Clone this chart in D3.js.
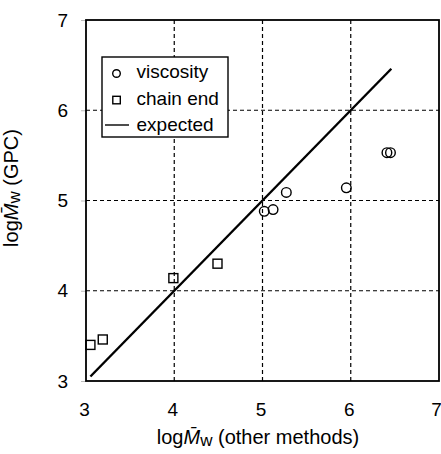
<!DOCTYPE html>
<html>
<head>
<meta charset="utf-8">
<script src="https://cdn.jsdelivr.net/npm/d3@7"></script>
<style>
  body { margin: 0; background: #fff; }
  text { font-family: "Liberation Sans", Arial, sans-serif; fill: #000; }
</style>
</head>
<body>
<svg id="chart" width="441" height="454"></svg>
<script>
// Data
const viscosityX = [5.02, 5.12, 5.27, 5.95, 6.41, 6.45],
    viscosityY = [4.88, 4.90, 5.09, 5.14, 5.53, 5.53];
const chainEndX = [3.05, 3.19, 3.99, 4.49],
    chainEndY = [3.40, 3.46, 4.14, 4.30];
const expectedX = [3.05, 6.46];
const ticks = [3, 4, 5, 6, 7];
const legendItems = ['viscosity', 'chain end', 'expected'];

const margin = { top: 20, right: 2, bottom: 73, left: 86 },
    width = 441 - margin.left - margin.right,
    height = 454 - margin.top - margin.bottom,
    fontSize = 19,
    titleSize = 20;

const svg = d3.select('#chart');
const g = svg.append('g').attr('transform', 'translate(' + margin.left + ',' + margin.top + ')');

const x = d3.scaleLinear().domain([3, 7]).range([0, width]),
    y = d3.scaleLinear().domain([3, 7]).range([height, 0]);

// Grid
g.append('g').selectAll('line').data(ticks.slice(1, -1)).join('line')
    .attr('x1', d => x(d)).attr('x2', d => x(d))
    .attr('y1', 0).attr('y2', height)
    .attr('stroke', '#000').attr('stroke-width', 1.2).attr('stroke-dasharray', '4,3');
g.append('g').selectAll('line').data(ticks.slice(1, -1)).join('line')
    .attr('y1', d => y(d)).attr('y2', d => y(d))
    .attr('x1', 0).attr('x2', width)
    .attr('stroke', '#000').attr('stroke-width', 1.2).attr('stroke-dasharray', '4,3');

// Axes
const xAxis = g.append('g').attr('transform', 'translate(0,' + height + ')')
    .call(d3.axisBottom(x).tickValues(ticks).tickFormat(d3.format('d')).tickSize(0).tickPadding(21.5));
const yAxis = g.append('g')
    .call(d3.axisLeft(y).tickValues(ticks).tickFormat(d3.format('d')).tickSize(5).tickPadding(13));
[xAxis, yAxis].forEach(a => {
    a.select('.domain').remove();
    a.attr('font-size', fontSize).attr('font-family', '"Liberation Sans", Arial, sans-serif');
});
xAxis.selectAll('text').attr('dx', d => d === 7 ? -3 : -2);
yAxis.selectAll('line').attr('stroke', '#bbb');

// Frame
g.append('rect').attr('width', width).attr('height', height)
    .attr('fill', 'none').attr('stroke', '#000').attr('stroke-width', 1.8);

// Expected line
const line = d3.line().x(d => x(d)).y(d => y(d));
g.append('path').attr('d', line(expectedX))
    .attr('fill', 'none').attr('stroke', '#000').attr('stroke-width', 2.4);

// Viscosity circles
g.append('g').selectAll('circle').data(viscosityX).join('circle')
    .attr('cx', d => x(d)).attr('cy', (d, i) => y(viscosityY[i])).attr('r', 4.8)
    .attr('fill', 'none').attr('stroke', '#000').attr('stroke-width', 1.4);

// Chain end squares
const sq = 9;
g.append('g').selectAll('rect').data(chainEndX).join('rect')
    .attr('x', d => x(d) - sq / 2).attr('y', (d, i) => y(chainEndY[i]) - sq / 2)
    .attr('width', sq).attr('height', sq)
    .attr('fill', 'none').attr('stroke', '#000').attr('stroke-width', 1.4);

// Legend
const legend = svg.append('g').attr('transform', 'translate(102,57)');
legend.append('rect').attr('width', 126).attr('height', 80)
    .attr('fill', '#fff').attr('stroke', '#000').attr('stroke-width', 1.4);
legend.append('circle').attr('cx', 14.5).attr('cy', 16.5).attr('r', 3.8)
    .attr('fill', 'none').attr('stroke', '#000').attr('stroke-width', 1.4);
legend.append('rect').attr('x', 10.8).attr('y', 39.3).attr('width', 7.5).attr('height', 7.5)
    .attr('fill', 'none').attr('stroke', '#000').attr('stroke-width', 1.4);
legend.append('line').attr('x1', 3).attr('x2', 27).attr('y1', 68).attr('y2', 68)
    .attr('stroke', '#000').attr('stroke-width', 1.4);
legend.selectAll('text.item').data(legendItems).join('text').attr('class', 'item')
    .attr('x', 34.5).attr('y', (d, i) => 21 + i * 26.5)
    .style('font-size', fontSize + 'px').text(d => d);

// Axis titles: log M̄w
function title(sel, rest) {
    sel.style('font-size', titleSize + 'px');
    sel.append('tspan').text('log');
    sel.append('tspan').style('font-style', 'italic').text('M\u0304');
    sel.append('tspan').style('font-size', '17px').attr('dy', 1.5).text('w');
    sel.append('tspan').attr('dy', -1.5).text(' ' + rest);
}
svg.append('text').attr('x', 258).attr('y', 444).attr('text-anchor', 'middle')
    .call(title, '(other methods)');
svg.append('text').attr('transform', 'translate(18,188) rotate(-90)').attr('text-anchor', 'middle')
    .call(title, '(GPC)');
</script>
</body>
</html>
